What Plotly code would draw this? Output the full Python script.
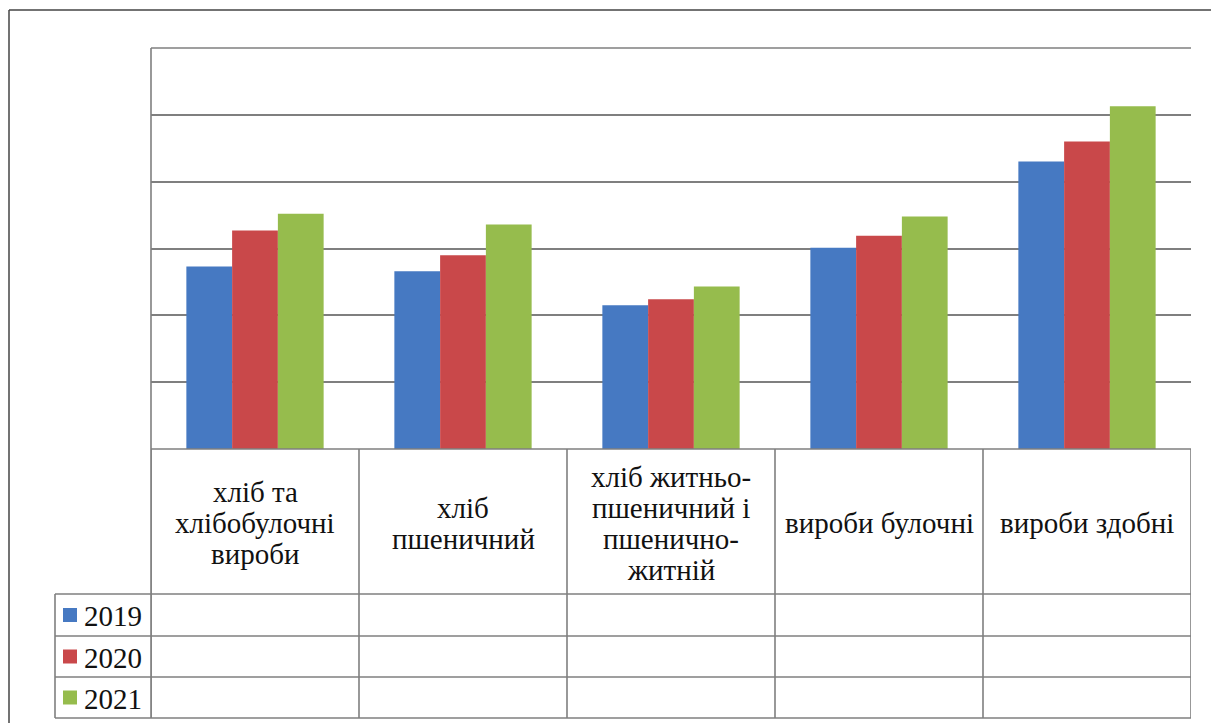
import plotly.graph_objects as go

# window is 1219x725, the page body has an 8px margin
WIN_W, WIN_H = 1219, 725
OFF = 8
W, H = WIN_W - 2 * OFF + 6, WIN_H - 2 * OFF + 6

categories = ["хліб та<br>хлібобулочні<br>вироби",
              "хліб<br>пшеничний",
              "хліб житньо-<br>пшеничний і<br>пшенично-<br>житній",
              "вироби булочні",
              "вироби здобні"]
years = ["2019", "2020", "2021"]
v2019 = [2.73, 2.66, 2.15, 3.01, 4.30]
v2020 = [3.27, 2.90, 2.24, 3.19, 4.60]
v2021 = [3.52, 3.36, 2.43, 3.48, 5.13]
series = [v2019, v2020, v2021]
colors = ["#4679C2", "#C9484A", "#96BC4D"]

FONT = "Liberation Serif, Times New Roman, serif"

def px(x):
    return (x - OFF) / W

def py(y):
    return 1 - (y - OFF) / H

x_idx = list(range(len(categories)))

fig = go.Figure()
for name, vals, c in zip(years, series, colors):
    fig.add_trace(go.Bar(x=x_idx, y=vals, name=name, marker=dict(color=c, line=dict(width=0)),
                         showlegend=False))

GRID = "#7F7F7F"
LW = 1.6
shapes = []
shapes.append(dict(type="line", xref="paper", yref="paper", x0=px(151), x1=px(151), y0=py(48), y1=py(718),
                   line=dict(color=GRID, width=LW)))
shapes.append(dict(type="line", xref="paper", yref="paper", x0=px(151), x1=px(1191), y0=py(48), y1=py(48),
                   line=dict(color=GRID, width=LW)))
for k in range(len(categories) + 1):
    shapes.append(dict(type="line", xref="x", yref="paper", x0=k - 0.5, x1=k - 0.5, y0=py(449), y1=py(718),
                       line=dict(color=GRID, width=LW)))
shapes.append(dict(type="line", xref="paper", yref="paper", x0=px(151), x1=px(1191), y0=py(449), y1=py(449),
                   line=dict(color=GRID, width=LW)))
for yy in [594, 636, 677, 718]:
    shapes.append(dict(type="line", xref="paper", yref="paper", x0=px(55), x1=px(1191), y0=py(yy), y1=py(yy),
                       line=dict(color=GRID, width=LW)))
shapes.append(dict(type="line", xref="paper", yref="paper", x0=px(55), x1=px(55), y0=py(594), y1=py(718),
                   line=dict(color=GRID, width=LW)))
# outer frame (left and top)
shapes.append(dict(type="line", xref="paper", yref="paper", x0=px(9), x1=px(9), y0=py(10), y1=py(730),
                   line=dict(color="#444444", width=1.5)))
shapes.append(dict(type="line", xref="paper", yref="paper", x0=px(9), x1=px(1225), y0=py(10), y1=py(10),
                   line=dict(color="#444444", width=1.5)))

annotations = []
LINE_STEP = 31
for i, cat in enumerate(categories):
    lines = cat.split("<br>")
    n = len(lines)
    for j, ln in enumerate(lines):
        yc = 523 + (j - (n - 1) / 2) * LINE_STEP
        annotations.append(dict(x=i, xref="x", y=py(yc), yref="paper", text=ln, showarrow=False,
                                xanchor="center", yanchor="middle", align="center",
                                font=dict(family=FONT, size=29, color="#111111")))
row_centers = [615, 656.5, 697.5]
for name, c, yc in zip(years, colors, row_centers):
    shapes.append(dict(type="rect", xref="paper", yref="paper", x0=px(63), x1=px(77), y0=py(yc + 7), y1=py(yc - 7),
                       fillcolor=c, line=dict(width=0)))
    annotations.append(dict(x=px(82), xref="paper", y=py(yc + 1), yref="paper", text=name, showarrow=False,
                            xanchor="left", yanchor="middle",
                            font=dict(family=FONT, size=29, color="#111111")))

fig.update_layout(
    width=W, height=H,
    margin=dict(l=0, r=0, t=0, b=0),
    paper_bgcolor="white", plot_bgcolor="white",
    barmode="group", bargap=0.34, bargroupgap=0,
    shapes=shapes, annotations=annotations,
    xaxis=dict(domain=[px(151), px(1191)], range=[-0.5, 4.5], showticklabels=False, showgrid=False,
               zeroline=False, showline=False, ticks=""),
    yaxis=dict(domain=[py(449), py(48)], range=[0, 6], dtick=1, showticklabels=False, showgrid=True,
               gridcolor=GRID, gridwidth=LW, zeroline=False, showline=False, ticks=""),
)

fig.write_html("out.html")
